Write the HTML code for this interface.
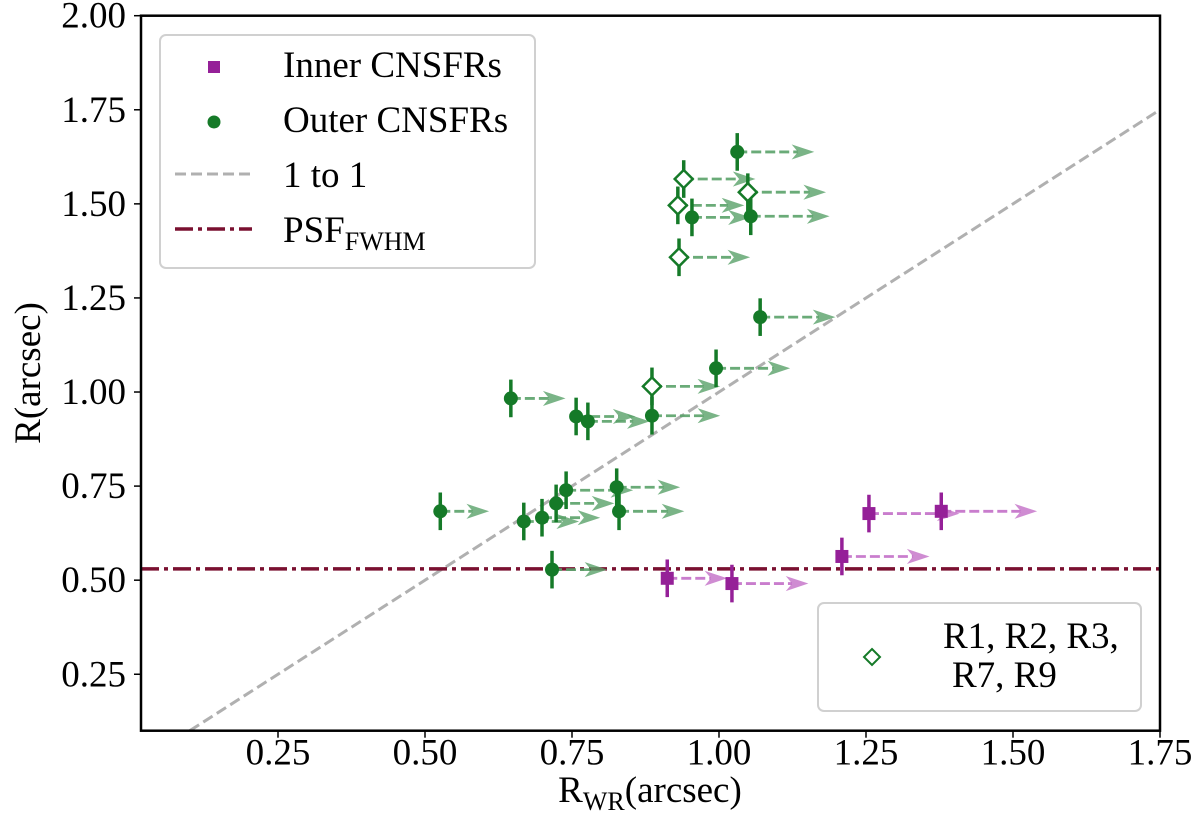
<!DOCTYPE html>
<html><head><meta charset="utf-8"><style>
body{margin:0;background:#fff;position:relative}
svg{display:block}
svg text{font-family:"Liberation Serif","Times New Roman",serif !important}
</style></head><body>
<svg id="chart" width="1200" height="836" viewBox="0 0 1200 836" xmlns="http://www.w3.org/2000/svg">
<defs>
<clipPath id="clip"><rect x="141" y="15.7" width="1019" height="715"/></clipPath>
</defs>
<g id="plot" clip-path="url(#clip)"></g>
<g id="axes"></g>
</svg>
<script>
const xTicks=[0.25,0.50,0.75,1.00,1.25,1.50,1.75];
const xTickLabels=["0.25","0.50","0.75","1.00","1.25","1.50","1.75"];
const yTicks=[0.25,0.50,0.75,1.00,1.25,1.50,1.75,2.00];
const yTickLabels=["0.25","0.50","0.75","1.00","1.25","1.50","1.75","2.00"];
const innerX=[0.912,1.022,1.209,1.255,1.378];
const innerY=[0.505,0.491,0.563,0.677,0.683];
const innerEnd=[1.010,1.148,1.354,1.405,1.537];
const outerX=[1.031,0.954,1.054,1.070,0.995,0.646,0.757,0.777,0.886,0.826,0.740,0.723,0.830,0.526,0.699,0.668,0.716];
const outerY=[1.638,1.464,1.467,1.199,1.063,0.983,0.935,0.922,0.937,0.747,0.739,0.704,0.683,0.683,0.666,0.656,0.528];
const outerEnd=[1.158,1.050,1.184,1.194,1.117,0.735,0.854,0.878,0.998,0.930,0.850,0.818,0.937,0.605,0.794,0.758,0.806];
const diaX=[0.940,1.049,0.930,0.932,0.886];
const diaY=[1.566,1.531,1.496,1.358,1.015];
const diaEnd=[1.058,1.178,1.039,1.049,0.998];
const yErr=0.05;
const psf=0.53;
const X0=0.017,X1=1.75,Y0=0.1,Y1=2.0;
const L=141,R=1160,T=15.7,B=730.7;
const sx=v=>L+(v-X0)/(X1-X0)*(R-L);
const sy=v=>B-(v-Y0)/(Y1-Y0)*(B-T);
const NS="http://www.w3.org/2000/svg";
function mk(tag,attrs,parent){const e=document.createElementNS(NS,tag);for(const k in attrs)e.setAttribute(k,attrs[k]);parent.appendChild(e);return e;}
const plot=document.getElementById('plot'),axes=document.getElementById('axes');
let l1=mk('line',{x1:sx(0.1),y1:sy(0.1),x2:sx(1.75),y2:sy(1.75),stroke:'#b0b0b0','stroke-width':3,'stroke-dasharray':'11,5'},plot);


let lp=mk('line',{x1:L,y1:sy(psf),x2:R,y2:sy(psf),stroke:'#7a1030','stroke-width':3.5,'stroke-dasharray':'18,5,4,5'},plot);


function arrow(x,y,end,col,name){
  const g=mk('g',{},plot);
  
  
  const x0=sx(x),x1=sx(end),yy=sy(y);
  mk('line',{x1:x0,y1:yy,x2:x1-14,y2:yy,stroke:col,'stroke-width':2.8,'stroke-dasharray':'10,4',opacity:0.9},g);
  mk('polygon',{points:`${x1-18},${yy-6} ${x1},${yy} ${x1-18},${yy+6} ${x1-13},${yy}`,fill:col,stroke:col,'stroke-width':1.5,opacity:0.8},g);
}
function ebar(x,y,col){
  mk('line',{x1:sx(x),y1:sy(y-yErr),x2:sx(x),y2:sy(y+yErr),stroke:col,'stroke-width':3.5},plot);
}
const GA='#5aa26a',PA='#c470c8',G='#157a28',P='#952098';
outerX.forEach((x,i)=>arrow(x,outerY[i],outerEnd[i],GA,'outer-limit-arrow'));
diaX.forEach((x,i)=>arrow(x,diaY[i],diaEnd[i],GA,'r-region-limit-arrow'));
innerX.forEach((x,i)=>arrow(x,innerY[i],innerEnd[i],PA,'inner-limit-arrow'));
outerX.forEach((x,i)=>{ebar(x,outerY[i],G);
  const c=mk('circle',{cx:sx(x),cy:sy(outerY[i]),r:7,fill:G},plot);
  
  });
diaX.forEach((x,i)=>{ebar(x,diaY[i],G);
  const cx=sx(x),cy=sy(diaY[i]);
  const d=mk('polygon',{points:`${cx},${cy-9} ${cx+9},${cy} ${cx},${cy+9} ${cx-9},${cy}`,fill:'#fff',stroke:G,'stroke-width':2.5},plot);
  
  });
innerX.forEach((x,i)=>{ebar(x,innerY[i],P);
  const s=mk('rect',{x:sx(x)-6.5,y:sy(innerY[i])-6.5,width:13,height:13,fill:P},plot);
  
  });
mk('rect',{x:L,y:T,width:R-L,height:B-T,fill:'none',stroke:'#000','stroke-width':2.5},axes);
xTicks.forEach((v,i)=>{
  mk('line',{x1:sx(v),y1:B,x2:sx(v),y2:B+7,stroke:'#000','stroke-width':1.5},axes);
  const t=mk('text',{x:sx(v),y:B+34,'font-size':37,'text-anchor':'middle'},axes);
  t.textContent=xTickLabels[i];
  
  
});
yTicks.forEach((v,i)=>{
  mk('line',{x1:L-7,y1:sy(v),x2:L,y2:sy(v),stroke:'#000','stroke-width':1.5},axes);
  const t=mk('text',{x:126,y:sy(v)+12,'font-size':37,'text-anchor':'end'},axes);
  t.textContent=yTickLabels[i];
  
  
});
</script>
<svg style="position:absolute;left:0;top:0" width="1200" height="836" xmlns="http://www.w3.org/2000/svg">
<g>
<text x="650" y="802" font-size="37" text-anchor="middle">R<tspan font-size="26" dy="8">WR</tspan><tspan dy="-8">(arcsec)</tspan></text>
<text transform="translate(40,373) rotate(-90)" font-size="37" text-anchor="middle">R(arcsec)</text>
<g>
<rect x="160" y="35" width="375" height="233" rx="6" fill="#fff" fill-opacity="0.85" stroke="#d0d0d0" stroke-width="2"/>
<rect x="208" y="61" width="12" height="12" fill="#952098"/>
<text x="283" y="77" font-size="37">Inner CNSFRs</text>
<circle cx="214" cy="122" r="6.5" fill="#157a28"/>
<text x="283" y="132" font-size="37">Outer CNSFRs</text>
<line x1="175" y1="174" x2="252" y2="174" stroke="#b0b0b0" stroke-width="3" stroke-dasharray="11,5"/>
<text x="283" y="187" font-size="37">1 to 1</text>
<line x1="175" y1="229" x2="252" y2="229" stroke="#7a1030" stroke-width="3.5" stroke-dasharray="18,5,4,5"/>
<text x="283" y="242" font-size="37">PSF<tspan font-size="26" dy="8">FWHM</tspan></text>
</g>
<g>
<rect x="818" y="603" width="323" height="108" rx="6" fill="#fff" fill-opacity="0.85" stroke="#d0d0d0" stroke-width="2"/>
<polygon points="872,649 880,657 872,665 864,657" fill="#fff" stroke="#157a28" stroke-width="2"/>
<text x="943" y="648" font-size="37">R1, R2, R3,</text>
<text x="952" y="687" font-size="37">R7, R9</text>
</g>
</g>
</svg>
</body></html>
